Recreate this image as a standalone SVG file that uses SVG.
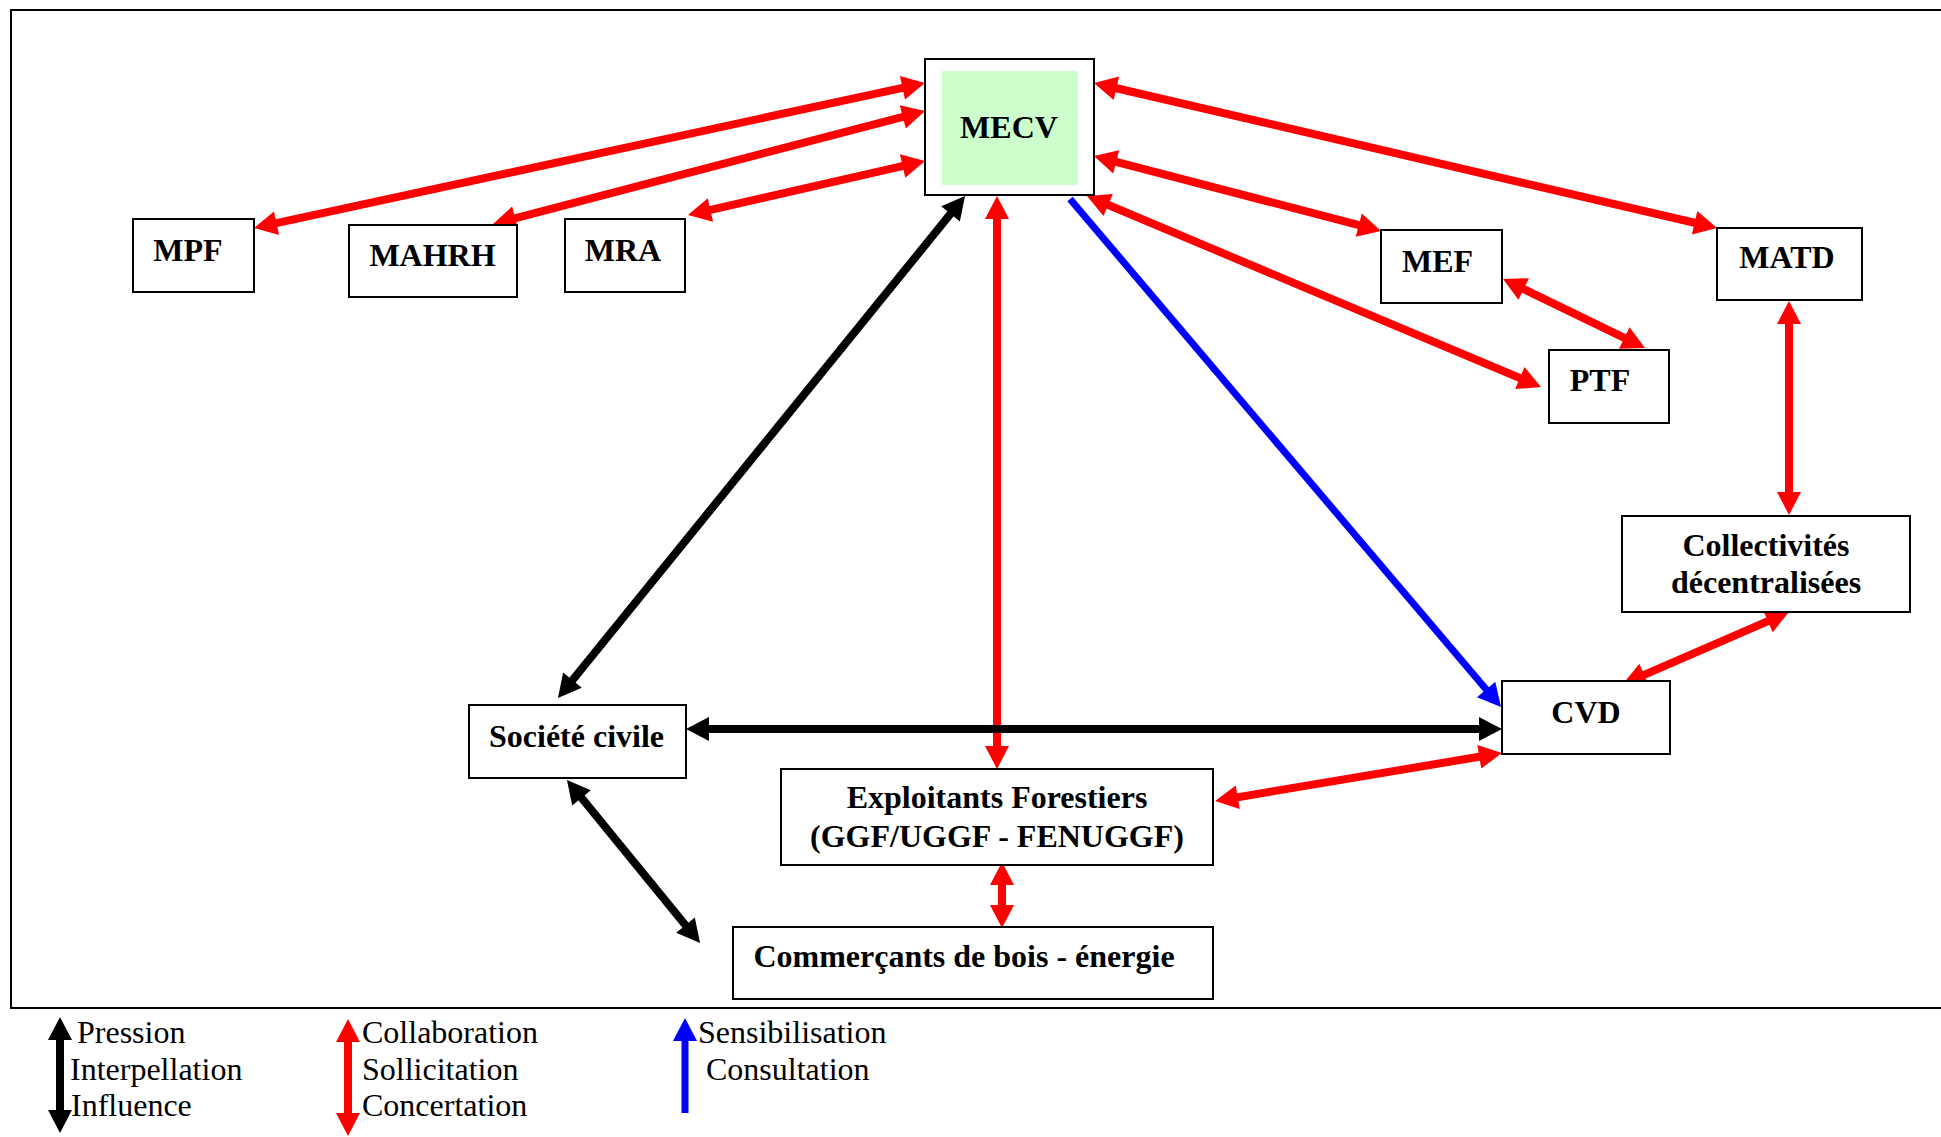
<svg xmlns="http://www.w3.org/2000/svg" width="1941" height="1137" viewBox="0 0 1941 1137">
<style>
.box{fill:#fff;stroke:#000;stroke-width:2}
.t{font-family:"Liberation Serif","Times New Roman",serif;font-weight:bold;font-size:32px;fill:#000;text-anchor:middle}
.lg{font-family:"Liberation Serif","Times New Roman",serif;font-size:32px;fill:#000}
.r{stroke:#ff0000;stroke-width:8;fill:none;marker-start:url(#hr);marker-end:url(#hr)}
.k{stroke:#000;stroke-width:8;fill:none;marker-start:url(#hk);marker-end:url(#hk)}
.b{stroke:#0000ff;stroke-width:7;fill:none;marker-end:url(#hb)}
</style>
<defs>
<marker id="hr" markerUnits="userSpaceOnUse" markerWidth="26" markerHeight="26" refX="12" refY="12" orient="auto-start-reverse" overflow="visible"><path d="M0,0 L23,12 L0,24 Z" fill="#ff0000"/></marker>
<marker id="hk" markerUnits="userSpaceOnUse" markerWidth="26" markerHeight="26" refX="12" refY="12" orient="auto-start-reverse" overflow="visible"><path d="M0,0 L23,12 L0,24 Z" fill="#000"/></marker>
<marker id="hb" markerUnits="userSpaceOnUse" markerWidth="26" markerHeight="26" refX="12" refY="12" orient="auto-start-reverse" overflow="visible"><path d="M0,0 L23,12 L0,24 Z" fill="#0000ff"/></marker>
</defs>
<rect width="1941" height="1137" fill="#fff"/>
<path d="M1945,10 H11 V1008 H1945" fill="none" stroke="#000" stroke-width="2"/>

<g id="connectors">
<line class="r" x1="914.2" y1="85.3" x2="264.8" y2="225.7"/>
<line class="r" x1="914.4" y1="113.8" x2="503.6" y2="221.2"/>
<line class="r" x1="914.3" y1="163.4" x2="698.7" y2="212.6"/>
<line class="r" x1="1104.7" y1="85.5" x2="1706.3" y2="225.5"/>
<line class="r" x1="1104.6" y1="158.8" x2="1370.4" y2="228.2"/>
<line class="r" x1="1097.1" y1="200.3" x2="1530.9" y2="382.7"/>
<line class="r" x1="1512.9" y1="283.8" x2="1635.1" y2="343.2"/>
<line class="r" x1="1789" y1="312" x2="1789" y2="504"/>
<line class="r" x1="1778.9" y1="616.4" x2="1633.1" y2="679.6"/>
<line class="b" x1="1070" y1="199" x2="1493.9" y2="698.6"/>
<line class="k" x1="958.1" y1="204.5" x2="564.9" y2="689.5"/>
<line class="r" x1="997" y1="207" x2="997" y2="758"/>
<line class="k" x1="697" y1="729" x2="1491" y2="729"/>
<line class="r" x1="1225.9" y1="799.2" x2="1491.1" y2="754.8"/>
<line class="r" x1="1002" y1="873" x2="1002" y2="917"/>
<line class="k" x1="573.9" y1="788.5" x2="693.1" y2="934.5"/>
</g>

<g id="MECV">
<rect class="box" x="925" y="59" width="169" height="136"/>
<rect x="942" y="71" width="136" height="114" fill="#ccffcc"/>
<text class="t" x="1009" y="138">MECV</text>
</g>
<g id="MPF">
<rect class="box" x="133" y="219" width="121" height="73"/>
<text class="t" x="188" y="261">MPF</text>
</g>
<g id="MAHRH">
<rect class="box" x="349" y="225" width="168" height="72"/>
<text class="t" x="432.5" y="266">MAHRH</text>
</g>
<g id="MRA">
<rect class="box" x="565" y="219" width="120" height="73"/>
<text class="t" x="623" y="261">MRA</text>
</g>
<g id="MEF">
<rect class="box" x="1381" y="230" width="121" height="73"/>
<text class="t" x="1437.5" y="272">MEF</text>
</g>
<g id="MATD">
<rect class="box" x="1717" y="228" width="145" height="72"/>
<text class="t" x="1787" y="268">MATD</text>
</g>
<g id="PTF">
<rect class="box" x="1549" y="350" width="120" height="73"/>
<text class="t" x="1600" y="391">PTF</text>
</g>
<g id="Collectivites">
<rect class="box" x="1622" y="516" width="288" height="96"/>
<text class="t" x="1766" y="556">Collectivités</text>
<text class="t" x="1766" y="593">décentralisées</text>
</g>
<g id="CVD">
<rect class="box" x="1502" y="681" width="168" height="73"/>
<text class="t" x="1586" y="723">CVD</text>
</g>
<g id="Societe">
<rect class="box" x="469" y="705" width="217" height="73"/>
<text class="t" x="576.5" y="747">Société civile</text>
</g>
<g id="Exploitants">
<rect class="box" x="781" y="769" width="432" height="96"/>
<text class="t" x="997" y="808">Exploitants Forestiers</text>
<text class="t" x="997" y="847">(GGF/UGGF - FENUGGF)</text>
</g>
<g id="Commercants">
<rect class="box" x="733" y="927" width="480" height="72"/>
<text class="t" x="964" y="967">Commerçants de bois - énergie</text>
</g>

<g id="legend">
<line class="k" x1="60" y1="1028" x2="60" y2="1122"/>
<text class="lg" x="77" y="1043">Pression</text>
<text class="lg" x="70" y="1080">Interpellation</text>
<text class="lg" x="71" y="1116">Influence</text>
<line class="r" x1="348" y1="1030" x2="348" y2="1125"/>
<text class="lg" x="362" y="1043">Collaboration</text>
<text class="lg" x="362" y="1080">Sollicitation</text>
<text class="lg" x="362" y="1116">Concertation</text>
<line stroke="#0000ff" stroke-width="7" x1="685" y1="1029" x2="685" y2="1113" marker-start="url(#hb)"/>
<text class="lg" x="698" y="1043">Sensibilisation</text>
<text class="lg" x="706" y="1080">Consultation</text>
</g>
</svg>
